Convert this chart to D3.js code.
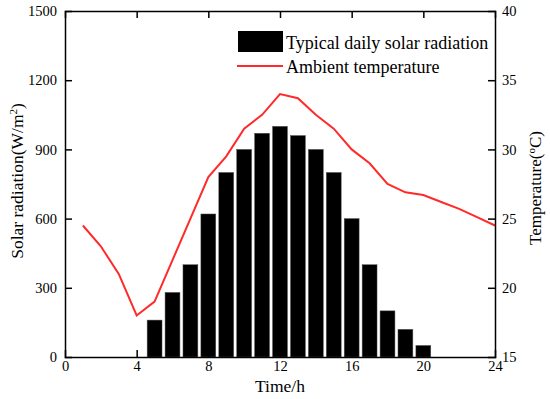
<!DOCTYPE html>
<html>
<head>
<meta charset="utf-8">
<script src="https://cdn.jsdelivr.net/npm/d3@7"></script>
<style>
  body { margin: 0; background: #fff; }
  svg text { font-family: "Palatino Linotype", "Book Antiqua", Palatino, "Liberation Serif", "DejaVu Serif", serif; fill: #000; }
</style>
</head>
<body>
<div class="visiHolder"></div>
<script>
const barHours = [5, 6, 7, 8, 9, 10, 11, 12, 13, 14, 15, 16, 17, 18, 19, 20];
const radiation = [160, 280, 400, 620, 800, 900, 970, 1000, 960, 900, 800, 600, 400, 200, 120, 50];

const tempHours = [1, 2, 3, 4, 5, 6, 7, 8, 9, 10, 11, 12, 13, 14, 15, 16, 17, 18, 19, 20, 21, 22, 23, 24];
const temperature = [24.5, 23.0, 21.0, 18.0, 19.0, 22.0, 25.0, 28.0, 29.5, 31.5, 32.5, 34.0, 33.7, 32.5, 31.5, 30.0, 29.0, 27.5, 26.9, 26.7, 26.2, 25.7, 25.1, 24.5];

const xTicks = [0, 4, 8, 12, 16, 20, 24];
const leftTicks = [0, 300, 600, 900, 1200, 1500];
const rightTicks = [15, 20, 25, 30, 35, 40];

const width = 550;
const height = 399;
const margin = { left: 65, right: 55, top: 11, bottom: 42 };
const serif = '"Palatino Linotype", "Book Antiqua", Palatino, "Liberation Serif", serif';

const svg = d3
  .select(".visiHolder")
  .append("svg")
  .attr("width", width)
  .attr("height", height);

const xScale = d3.scaleLinear().domain([0, 24]).range([margin.left, width - margin.right]);
const yLeft = d3.scaleLinear().domain([0, 1500]).range([height - margin.bottom, margin.top]);
const yRight = d3.scaleLinear().domain([15, 40]).range([height - margin.bottom, margin.top]);

const barWidth = (xScale(1) - xScale(0)) * 0.83;

// bars
svg
  .selectAll("rect.bar")
  .data(barHours)
  .enter()
  .append("rect")
  .attr("class", "bar")
  .attr("x", (d) => xScale(d) - barWidth / 2)
  .attr("y", (d, i) => yLeft(radiation[i]))
  .attr("width", barWidth)
  .attr("height", (d, i) => yLeft(0) - yLeft(radiation[i]))
  .attr("fill", "#000")
  .attr("stroke", "#555")
  .attr("stroke-width", 0.5);

// temperature line
const line = d3
  .line()
  .x((d) => xScale(d))
  .y((d, i) => yRight(temperature[i]));

svg
  .append("path")
  .datum(tempHours)
  .attr("d", line)
  .attr("fill", "none")
  .attr("stroke", "#ff2a2a")
  .attr("stroke-width", 2);

// axes (ticks inward)
const tickLen = 7;
const fmt = d3.format("d");
const bottomAxis = svg
  .append("g")
  .attr("transform", `translate(0, ${yLeft(0)})`)
  .call(d3.axisBottom(xScale).tickValues(xTicks).tickFormat(fmt).tickSize(-tickLen).tickPadding(4));

const topAxis = svg
  .append("g")
  .attr("transform", `translate(0, ${margin.top})`)
  .call(d3.axisTop(xScale).tickValues(xTicks).tickSize(-tickLen).tickFormat(""));

const leftAxis = svg
  .append("g")
  .attr("transform", `translate(${margin.left}, 0)`)
  .call(d3.axisLeft(yLeft).tickValues(leftTicks).tickFormat(fmt).tickSize(-tickLen).tickPadding(8));

const rightAxis = svg
  .append("g")
  .attr("transform", `translate(${width - margin.right}, 0)`)
  .call(d3.axisRight(yRight).tickValues(rightTicks).tickFormat(fmt).tickSize(-tickLen).tickPadding(7));

[bottomAxis, topAxis, leftAxis, rightAxis].forEach((g) => {
  g.attr("font-family", serif);
  g.select(".domain").attr("stroke", "#000").attr("stroke-width", 1.5);
  g.selectAll(".tick line").attr("stroke", "#000").attr("stroke-width", 1.5);
  g.selectAll(".tick text").style("font-family", serif).style("font-size", "14.5px");
});
// no tick marks at the frame corners
bottomAxis.selectAll(".tick line").filter((d) => d === 0 || d === 24).remove();
topAxis.selectAll(".tick line").filter((d) => d === 0 || d === 24).remove();
leftAxis.selectAll(".tick line").filter((d) => d === 0 || d === 1500).remove();
rightAxis.selectAll(".tick line").filter((d) => d === 15 || d === 40).remove();

// axis titles
svg
  .append("text")
  .attr("x", xScale(12))
  .attr("y", 392)
  .attr("text-anchor", "middle")
  .style("font-size", "17.5px")
  .text("Time/h");

const leftTitle = svg
  .append("text")
  .attr("transform", `translate(23, 181) rotate(-90)`)
  .attr("text-anchor", "middle")
  .style("font-size", "17.5px");
leftTitle.append("tspan").text("Solar radiation(W/m");
leftTitle.append("tspan").attr("baseline-shift", "super").style("font-size", "11px").text("2");
leftTitle.append("tspan").text(")");

const rightTitle = svg
  .append("text")
  .attr("transform", `translate(541, 188) rotate(-90)`)
  .attr("text-anchor", "middle")
  .style("font-size", "17px");
rightTitle.append("tspan").text("Temperature(");
rightTitle.append("tspan").attr("baseline-shift", "super").style("font-size", "11px").text("o");
rightTitle.append("tspan").text("C)");

// legend
const legend = svg.append("g");
legend
  .append("rect")
  .attr("x", 238)
  .attr("y", 31)
  .attr("width", 45)
  .attr("height", 21)
  .attr("fill", "#000");
legend
  .append("text")
  .attr("x", 286)
  .attr("y", 49)
  .style("font-size", "18px")
  .text("Typical daily solar radiation");
legend
  .append("line")
  .attr("x1", 237)
  .attr("x2", 283)
  .attr("y1", 66)
  .attr("y2", 66)
  .attr("stroke", "#ff2a2a")
  .attr("stroke-width", 2);
legend
  .append("text")
  .attr("x", 286)
  .attr("y", 73)
  .style("font-size", "18px")
  .text("Ambient temperature");
</script>
</body>
</html>
